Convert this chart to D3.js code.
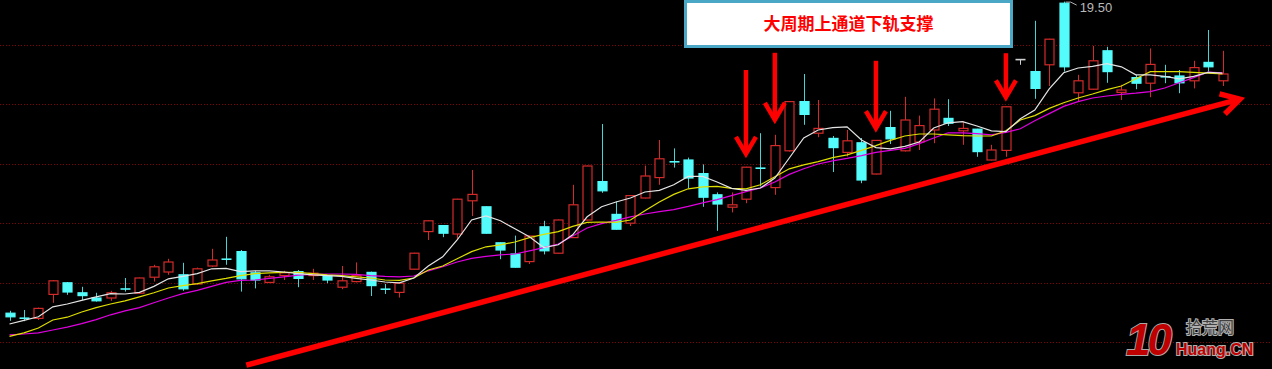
<!DOCTYPE html>
<html>
<head>
<meta charset="utf-8">
<script src="https://d3js.org/d3.v7.min.js"></script>
<style>
body { margin:0; background:#000; overflow:hidden; }
</style>
</head>
<body>
<script>
var w = 1272, h = 369;

// daily candles, index 1..85
var opens = [11.71,11.59,11.58,12.18,12.47,12.22,12.09,12.09,12.32,12.21,
	12.61,12.74,12.67,12.44,12.89,13.07,13.25,12.72,12.48,12.65,
	12.75,12.65,12.65,12.36,12.50,12.73,12.32,12.23,12.81,13.75,
	13.90,13.69,14.52,14.37,13.47,13.19,13.00,13.87,13.21,13.60,
	14.04,15.00,14.18,13.96,14.59,15.10,15.50,15.54,15.20,14.67,
	14.36,14.56,15.34,14.85,15.77,17.00,16.21,16.08,15.73,15.97,
	15.19,16.35,15.77,15.99,16.29,16.58,16.27,16.31,15.54,15.78,
	18.05,17.75,17.92,19.46,17.22,17.31,18.27,17.23,17.60,17.46,
	17.63,17.64,17.52,17.98,17.52];
var closes = [11.62,11.58,11.83,12.52,12.24,12.15,12.02,12.22,12.31,12.59,
	12.87,12.99,12.32,12.82,13.04,13.05,12.57,12.54,12.62,12.72,
	12.58,12.71,12.54,12.52,12.65,12.40,12.30,12.46,13.21,14.02,
	13.71,14.56,14.68,13.71,13.29,12.86,13.64,13.27,14.04,14.42,
	15.39,14.77,13.81,14.65,15.14,15.57,15.49,15.09,14.61,14.44,
	14.42,15.36,15.33,15.90,17.00,16.68,16.33,15.85,16.02,15.04,
	16.03,16.07,16.54,16.40,16.81,16.46,16.33,15.75,15.79,16.87,
	18.05,17.33,18.56,17.87,17.52,18.02,17.75,17.29,17.46,17.93,
	17.61,17.47,17.85,17.87,17.69];
var highs = [11.77,11.79,11.85,12.54,12.49,12.37,12.22,12.27,12.59,12.60,
	12.92,13.07,12.97,12.85,13.32,13.62,13.29,12.77,12.67,12.77,
	12.79,12.82,12.67,12.89,12.98,12.75,12.44,12.47,13.22,14.03,
	13.91,14.57,15.29,14.38,13.48,13.65,13.65,14.02,14.05,14.92,
	15.40,16.44,14.50,14.66,15.40,16.04,15.83,15.60,15.43,14.73,
	14.73,15.37,16.21,16.17,17.01,17.69,17.04,16.14,16.29,16.09,
	16.04,16.77,17.12,16.65,17.08,17.06,16.50,16.32,15.92,16.88,
	18.05,19.02,18.57,19.50,17.67,18.39,18.37,17.42,17.67,18.33,
	17.92,17.79,18.02,18.79,18.27];
var lows = [11.52,11.51,11.54,11.97,12.17,12.04,12.00,12.02,12.25,12.19,
	12.50,12.67,12.27,12.42,12.87,12.92,12.25,12.33,12.46,12.54,
	12.36,12.54,12.46,12.31,12.48,12.14,12.19,12.10,12.80,13.54,
	13.61,13.54,14.14,13.70,13.06,12.85,12.94,13.18,13.20,13.59,
	14.03,14.72,13.80,13.89,14.58,14.92,15.35,14.83,14.37,13.77,
	14.23,14.46,14.88,14.67,15.75,16.42,16.11,15.24,15.63,14.96,
	15.18,15.94,15.75,15.79,15.96,16.39,15.92,15.62,15.53,15.62,
	17.92,17.07,17.39,17.75,17.00,17.30,17.47,17.04,17.31,17.11,
	17.46,17.21,17.33,17.75,17.39];

// moving averages
var maFast = [11.44,11.53,11.62,11.87,11.94,12.03,12.12,12.20,12.19,12.23,
	12.38,12.57,12.63,12.70,12.82,12.83,12.75,12.77,12.77,12.74,
	12.70,12.67,12.65,12.63,12.58,12.54,12.49,12.47,12.59,12.89,
	13.12,13.54,14.04,14.14,14.02,13.82,13.62,13.35,13.42,13.67,
	14.12,14.37,14.49,14.59,14.74,14.78,14.92,15.13,15.13,14.99,
	14.83,14.78,14.84,15.09,15.59,16.09,16.29,16.35,16.37,16.04,
	15.85,15.82,15.88,15.99,16.34,16.47,16.50,16.39,16.27,16.25,
	16.57,16.79,17.32,17.72,17.84,17.88,17.95,17.87,17.67,17.67,
	17.63,17.57,17.63,17.73,17.71];
var maMid = [11.13,11.22,11.34,11.54,11.61,11.74,11.85,11.94,12.02,12.12,
	12.22,12.34,12.40,12.45,12.52,12.58,12.65,12.70,12.72,12.73,
	12.73,12.70,12.67,12.65,12.62,12.59,12.54,12.53,12.59,12.79,
	12.89,13.07,13.25,13.37,13.42,13.49,13.60,13.68,13.75,13.88,
	13.98,13.99,13.98,14.04,14.27,14.49,14.68,14.82,14.87,14.88,
	14.83,14.82,14.92,15.12,15.32,15.42,15.50,15.60,15.67,15.78,
	15.90,16.03,16.14,16.19,16.19,16.17,16.15,16.14,16.14,16.27,
	16.54,16.65,16.83,16.97,17.09,17.19,17.30,17.39,17.57,17.75,
	17.75,17.75,17.73,17.71,17.69];
var maSlow = [11.17,11.19,11.22,11.29,11.36,11.45,11.55,11.67,11.77,11.85,
	11.97,12.09,12.20,12.28,12.38,12.48,12.53,12.54,12.58,12.62,
	12.66,12.68,12.69,12.69,12.68,12.65,12.63,12.62,12.64,12.77,
	12.87,12.99,13.08,13.13,13.17,13.19,13.27,13.35,13.44,13.64,
	13.84,13.95,14.03,14.12,14.19,14.25,14.30,14.38,14.47,14.55,
	14.65,14.75,14.84,14.99,15.18,15.32,15.44,15.52,15.58,15.65,
	15.73,15.78,15.83,15.95,16.09,16.22,16.22,16.20,16.17,16.23,
	16.32,16.52,16.70,16.88,17.00,17.09,17.14,17.18,17.21,17.25,
	17.34,17.47,17.60,17.74,17.72];

var gridPrices = [18.42, 16.93, 15.45, 13.96, 12.47, 10.99];

// annotations (candle index / price)
var downArrows = [{i:52, top:17.79, tip:15.67}, {i:54, top:18.22, tip:16.52},
	{i:61, top:18.02, tip:16.31}, {i:70, top:18.21, tip:17.08}];
var trendLine = [{i:17.4, p:10.41}, {i:86.2, p:17.06}];
var noteText = "大周期上通道下轨支撑";

var candles = opens.map(function(o, k) {
	return {i: k+1, o: o, c: closes[k], h: highs[k], l: lows[k]};
});

var x = d3.scaleLinear().domain([1, 85]).range([9.5, 1222.5]);
var y = d3.scaleLinear().domain([19.54, 10.315]).range([0, h]);

var svg = d3.select("body")
		.append("svg")
		.attr("width", w)
		.attr("height", h)
		.style("display", "block")
		.style("background", "#000");

// dotted grid
svg.selectAll(".grid")
	.data(gridPrices)
	.enter().append("line")
	.attr("x1", 0)
	.attr("x2", w)
	.attr("y1", function(d) { return Math.round(y(d)) + 0.5; })
	.attr("y2", function(d) { return Math.round(y(d)) + 0.5; })
	.attr("stroke", "#8a0000")
	.attr("stroke-width", 1)
	.attr("stroke-dasharray", "1,2");

// candles
var cg = svg.append("g");
candles.forEach(function(d) {
	var cx = Math.round(x(d.i)) + 0.5;
	var up = d.c > d.o, flat = d.c == d.o;
	var col = flat ? "#d0d0d0" : (up ? "#d42a2a" : "#54fcfc");
	var wickCol = flat ? "#d0d0d0" : (up ? "#d42a2a" : "#44d4d4");
	cg.append("line")
		.attr("x1", cx).attr("x2", cx)
		.attr("y1", y(d.h)).attr("y2", y(d.l))
		.attr("stroke", wickCol)
		.attr("stroke-width", 1);
	var top = y(Math.max(d.o, d.c)), bot = y(Math.min(d.o, d.c));
	if (bot - top < 1.5) {
		cg.append("line")
			.attr("x1", cx - 5).attr("x2", cx + 5)
			.attr("y1", (top + bot) / 2).attr("y2", (top + bot) / 2)
			.attr("stroke", col)
			.attr("stroke-width", 1.6);
	} else {
		cg.append("rect")
			.attr("x", cx - 4.5)
			.attr("y", top)
			.attr("width", 9)
			.attr("height", bot - top)
			.attr("fill", up ? "#000" : col)
			.attr("stroke", col)
			.attr("stroke-width", 1.2);
	}
});

// moving averages
function maLine(vals, colour) {
	var line = d3.line()
		.x(function(d, k) { return x(k + 1); })
		.y(function(d) { return y(d); });
	svg.append("path")
		.attr("d", line(vals))
		.attr("fill", "none")
		.attr("stroke", colour)
		.attr("stroke-width", 1.2);
}
maLine(maSlow, "#e000e0");
maLine(maMid, "#dede00");
maLine(maFast, "#e4e4e4");

// high label
var hiIdx = d3.maxIndex(highs);
var hx = x(hiIdx + 1), hy = y(highs[hiIdx]);
svg.append("polyline")
	.attr("points", [[hx + 2, hy + 0.5], [hx + 7, hy + 0.5], [hx + 13, hy + 3.5]].join(" "))
	.attr("fill", "none")
	.attr("stroke", "#b0b0b0")
	.attr("stroke-width", 1);
svg.append("text")
	.attr("x", hx + 16)
	.attr("y", hy + 10)
	.attr("font-family", "Liberation Sans, Arial, sans-serif")
	.attr("font-size", 13)
	.attr("fill", "#b8b8b8")
	.text(highs[hiIdx].toFixed(2));

// trend arrow
var t0 = [x(trendLine[0].i), y(trendLine[0].p)];
var t1 = [x(trendLine[1].i), y(trendLine[1].p)];
var ang = Math.atan2(t1[1] - t0[1], t1[0] - t0[0]);
var bl = 21, spread = 0.52;
svg.append("line")
	.attr("x1", t0[0]).attr("y1", t0[1])
	.attr("x2", t1[0] - 2 * Math.cos(ang)).attr("y2", t1[1] - 2 * Math.sin(ang))
	.attr("stroke", "#ff0000")
	.attr("stroke-width", 5.5);
svg.append("polyline")
	.attr("points", [
		[t1[0] - bl * Math.cos(ang - spread), t1[1] - bl * Math.sin(ang - spread)],
		t1,
		[t1[0] - bl * Math.cos(ang + spread), t1[1] - bl * Math.sin(ang + spread)]
	].join(" "))
	.attr("fill", "none")
	.attr("stroke", "#ff0000")
	.attr("stroke-width", 5.5)
	.attr("stroke-linejoin", "miter");

// down arrows
downArrows.forEach(function(a) {
	var ax = x(a.i), ay0 = y(a.top), ay1 = y(a.tip);
	svg.append("line")
		.attr("x1", ax).attr("x2", ax)
		.attr("y1", ay0).attr("y2", ay1 - 3)
		.attr("stroke", "#ff0000")
		.attr("stroke-width", 4.5);
	svg.append("polyline")
		.attr("points", [[ax - 10, ay1 - 18], [ax, ay1 - 1], [ax + 10, ay1 - 18]].join(" "))
		.attr("fill", "none")
		.attr("stroke", "#ff0000")
		.attr("stroke-width", 4.5)
		.attr("stroke-linejoin", "miter");
});

// note box
svg.append("rect")
	.attr("x", 685.5)
	.attr("y", 1.5)
	.attr("width", 326)
	.attr("height", 45)
	.attr("fill", "#fff")
	.attr("stroke", "#4aa8c6")
	.attr("stroke-width", 3);
svg.append("text")
	.attr("x", 848.5)
	.attr("y", 22)
	.attr("text-anchor", "middle")
	.attr("dominant-baseline", "central")
	.attr("font-family", "Noto Sans CJK SC, sans-serif")
	.attr("font-size", 17)
	.attr("font-weight", "bold")
	.attr("fill", "#ff0000")
	.text(noteText);

// watermark
var wm = svg.append("g");
wm.append("text")
	.attr("x", 1126)
	.attr("y", 355)
	.attr("font-family", "Liberation Sans, Arial, sans-serif")
	.attr("font-size", 44)
	.attr("font-weight", "bold")
	.attr("font-style", "italic")
	.attr("fill", "#c00000")
	.attr("stroke", "#a8a8a8")
	.attr("stroke-width", 2)
	.attr("paint-order", "stroke")
	.attr("letter-spacing", -3)
	.text("10");
wm.append("text")
	.attr("x", 1186)
	.attr("y", 333)
	.attr("font-family", "Noto Sans CJK SC, sans-serif")
	.attr("font-size", 16)
	.attr("fill", "#404040")
	.attr("stroke", "#b0b0b0")
	.attr("stroke-width", 2)
	.attr("paint-order", "stroke")
	.text("拾荒网");
wm.append("text")
	.attr("x", 1176)
	.attr("y", 355)
	.attr("font-family", "Liberation Sans, Arial, sans-serif")
	.attr("font-size", 16)
	.attr("font-weight", "bold")
	.attr("fill", "#c00000")
	.attr("stroke", "#b0b0b0")
	.attr("stroke-width", 2)
	.attr("paint-order", "stroke")
	.text("Huang.CN");
</script>
</body>
</html>
